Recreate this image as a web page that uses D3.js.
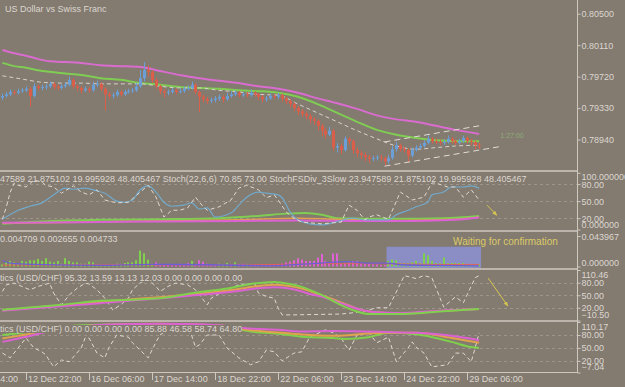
<!DOCTYPE html>
<html><head><meta charset="utf-8">
<script src="https://cdn.jsdelivr.net/npm/d3@7"></script>
<style>body{margin:0;background:#837a70;}svg{display:block;font-family:"Liberation Sans",Arial,sans-serif;}</style>
</head><body><svg id="c" width="625" height="387"></svg>
<script>
// ---------------- DATA ----------------
const title = "US Dollar vs Swiss Franc";
const opens = [.7946,.7948,.7950,.7953,.7952,.7954,.7955,.7957,.7948,.7960,
 .7958,.7959,.7960,.7963,.7959,.7958,.7960,.7962,.7968,.7960,
 .7958,.7955,.7957,.7955,.7962,.7963,.7957,.7950,.7948,.7949,
 .7953,.7950,.7953,.7954,.7955,.7960,.7970,.7980,.7978,.7968,
 .7960,.7954,.7952,.7953,.7955,.7953,.7954,.7957,.7958,.7962,
 .7953,.7947,.7944,.7942,.7943,.7945,.7947,.7944,.7948,.7950,
 .7952,.7949,.7950,.7949,.7952,.7950,.7947,.7944,.7945,.7948,
 .7947,.7949,.7945,.7942,.7938,.7933,.7929,.7926,.7923,.7919,
 .7917,.7911,.7905,.7900,.7905,.7884,.7886,.7881,.7895,.7892,
 .7881,.7877,.7875,.7872,.7870,.7871,.7872,.7871,.7867,.7871,
 .7882,.7887,.7882,.7881,.7874,.7881,.7884,.7886,.7890,.7895,
 .7892,.7891,.7890,.7891,.7895,.7892,.7890,.7892,.7896,.7892,
 .7891,.7887];
const closes = [.7948,.7950,.7953,.7952,.7954,.7955,.7957,.7948,.7960,.7958,
 .7959,.7960,.7963,.7959,.7958,.7960,.7962,.7968,.7960,.7958,
 .7955,.7957,.7955,.7962,.7963,.7957,.7950,.7948,.7949,.7953,
 .7950,.7953,.7954,.7955,.7960,.7970,.7980,.7978,.7968,.7960,
 .7954,.7952,.7953,.7955,.7953,.7954,.7957,.7958,.7962,.7953,
 .7947,.7944,.7942,.7943,.7945,.7947,.7944,.7948,.7950,.7952,
 .7949,.7950,.7949,.7952,.7950,.7947,.7944,.7945,.7948,.7947,
 .7949,.7945,.7942,.7938,.7933,.7929,.7926,.7923,.7919,.7917,
 .7911,.7905,.7900,.7905,.7884,.7886,.7881,.7895,.7892,.7881,
 .7877,.7875,.7872,.7870,.7871,.7872,.7871,.7867,.7871,.7882,
 .7887,.7882,.7881,.7874,.7881,.7884,.7886,.7890,.7895,.7892,
 .7891,.7890,.7891,.7895,.7892,.7890,.7892,.7896,.7892,.7891,
 .7887,.7886];
const highs = [.7951,.7953,.7956,.7955,.7957,.7958,.7960,.7959,.7964,.7962,
 .7962,.7963,.7966,.7965,.7962,.7963,.7965,.7972,.7970,.7962,
 .7960,.7960,.7959,.7966,.7967,.7965,.7959,.7953,.7952,.7956,
 .7955,.7956,.7957,.7958,.7964,.7980,.7990,.7986,.7980,.7970,
 .7962,.7957,.7956,.7958,.7957,.7957,.7960,.7961,.7966,.7964,
 .7955,.7950,.7947,.7946,.7948,.7950,.7949,.7952,.7954,.7955,
 .7954,.7953,.7953,.7956,.7954,.7952,.7949,.7948,.7951,.7950,
 .7952,.7951,.7947,.7944,.7940,.7936,.7932,.7929,.7926,.7922,
 .7919,.7914,.7908,.7910,.7907,.7890,.7889,.7898,.7897,.7894,
 .7884,.7880,.7878,.7875,.7874,.7875,.7875,.7873,.7875,.7886,
 .7891,.7889,.7885,.7883,.7884,.7887,.7889,.7893,.7899,.7897,
 .7895,.7894,.7894,.7899,.7897,.7894,.7895,.7899,.7898,.7895,
 .7893,.7890];
const lows = [.7943,.7946,.7948,.7949,.7950,.7952,.7953,.7935,.7946,.7955,
 .7955,.7956,.7958,.7956,.7955,.7956,.7958,.7960,.7957,.7954,
 .7951,.7953,.7952,.7953,.7959,.7954,.7930,.7944,.7945,.7947,
 .7947,.7948,.7951,.7952,.7953,.7958,.7966,.7972,.7964,.7957,
 .7950,.7946,.7949,.7951,.7950,.7951,.7952,.7955,.7956,.7950,
 .7928,.7940,.7938,.7939,.7940,.7942,.7940,.7942,.7946,.7948,
 .7946,.7947,.7946,.7947,.7947,.7943,.7940,.7941,.7943,.7944,
 .7944,.7941,.7938,.7934,.7929,.7924,.7922,.7919,.7914,.7912,
 .7905,.7898,.7895,.7898,.7880,.7878,.7876,.7879,.7888,.7876,
 .7872,.7870,.7867,.7865,.7867,.7868,.7867,.7862,.7864,.7869,
 .7879,.7879,.7878,.7866,.7872,.7879,.7882,.7884,.7888,.7889,
 .7888,.7887,.7887,.7889,.7889,.7887,.7888,.7890,.7889,.7887,
 .7882,.7882];
// moving averages sampled at bar indices
const maBars = [0,3,6,9,12,16,20,25,30,35,40,45,50,55,60,65,70,75,80,85,90,95,100,105,110,115,121];
const maMagenta = [.8005,.8001,.7998,.7994,.7991,.7990,.7989,.7986,.7985,.7984,.7979,.7974,.7970,.7967,.7964,.7960,.7957,.7952,.7945,.7939,.7932,.7924,.7919,.7916,.7911,.7906,.7901];
const maGreen = [.7989,.7985,.7983,.7980,.7978,.7976,.7974,.7970,.7968,.7964,.7962,.7959,.7958,.7957,.7955,.7954,.7952,.7947,.7938,.7927,.7916,.7906,.7900,.7896,.7893,.7892,.7892];
const maDashBars = [0,5,10,15,20,25,30,35,40,45,50,55,60,65,70,75,80,85,90,95,100,105,110,115,121];
const maDash = [.7973,.7969,.7965,.7964,.7964,.7963,.7963,.7963,.7960,.7958,.7958,.7955,.7953,.7950,.7949,.7938,.7927,.7916,.7905,.7895,.7886,.7882,.7884,.7886,.7887];
const channelUpper = [[97,.7891],[121,.7911]];
const channelLower = [[97,.7861],[126,.7885]];
const priceTicks = [0.80500,0.80110,0.79720,0.79330,0.78940];
const timerLabel = "1:27:00";

// StochFSDiv panel
const stochHeader = "StochFSDiv_3Slow 23.947589 21.875102 19.995928 48.405467 Stoch(22,6,6) 70.85 73.00 StochFSDiv_3Slow 23.947589 21.875102 19.995928 48.405467";
const stochHidden = "StochFSDiv_3Slow 23.9";
const stochBlue = [[0,18],[4,34],[7,41],[10,47],[13,61],[16,73],[18,71],[21,73],[24,68],[26,64],[29,50],[31,48],[33,52],[35,70],[37,77],[39,66],[41,48],[43,41],[46,43],[48,47],[50,36],[52,38],[54,22],[58,29],[60,43],[62,57],[65,66],[67,64],[70,61],[71,56],[73,31],[75,17],[78,10],[81,8],[84,12],[87,18],[89,20],[92,17],[98,17],[100,26],[103,34],[105,40],[108,48],[109,61],[112,66],[114,75],[117,75],[119,77],[121,73]];
const stochDash = [[0,18],[1,40],[2,66],[3,82],[4,78],[6,75],[8,87],[10,84],[11,78],[13,75],[15,64],[18,77],[20,66],[22,61],[24,70],[26,52],[29,47],[32,48],[35,66],[37,78],[39,57],[41,22],[43,34],[45,34],[47,38],[49,57],[51,40],[52,34],[55,40],[58,52],[60,73],[62,78],[65,70],[67,56],[69,61],[70,52],[72,31],[74,20],[76,13],[81,10],[86,13],[88,43],[90,34],[92,17],[93,22],[95,26],[98,18],[101,66],[103,57],[104,52],[107,57],[109,82],[110,82],[113,75],[115,75],[117,57],[119,70],[121,52]];
const stochGreen = [[0,10],[10,14],[25,17],[40,18],[55,20],[65,24],[72,28],[77,29],[81,26],[85,20],[100,19],[112,20],[121,24]];
const stochOrange = [[0,11],[20,13],[40,15],[60,17],[75,20],[85,18],[100,16],[115,18],[121,22]];
const stochMagenta = [[0,12],[20,13],[40,14],[60,15],[75,16],[90,15],[105,15],[115,17],[121,21]];
const stochTicks = [100,80,50,20,0];
const stochTickLabels = ["100.000000","80.00","50.00","20.00","0.000000"];
const stochArrow = [[123,43],[125.5,25]];

// histogram panel (positive = green, negative = magenta)
const histHeader = "0.004709 0.002655 0.004733";
const histValues = [.003,.006,.008,.006,.004,.008,.007,.009,.009,.011,
 .008,.012,.007,.006,.008,.004,.012,.008,.006,.006,
 .004,.004,.007,.006,.003,.002,.003,.002,.003,.004,
 .003,.005,.006,.006,.009,.023,.019,.010,.004,-.006,
 -.004,-.003,-.002,-.003,-.002,-.004,-.003,-.005,.008,-.003,
 -.009,-.007,-.004,-.003,-.002,.004,.003,.005,-.003,.006,
 -.003,-.004,.003,-.002,-.003,-.002,-.003,-.002,-.003,-.002,
 -.003,-.004,-.006,-.007,-.009,-.012,-.010,-.008,-.008,-.008,
 -.013,-.018,-.008,-.005,-.019,-.019,-.004,-.005,-.006,-.008,
 -.008,-.005,-.004,-.004,-.003,-.003,-.002,-.002,.008,.010,
 .009,.005,.005,.005,.006,.008,.005,.019,.016,.008,
 .005,.005,.013,.005,.005,.005,.005,.005,.003,.002,
 .002,.003];
const histBlue = [[0,.0083],[2,.005],[8,.003],[25,.0015],[38,.003],[52,.0025],[68,.001],[75,.003],[81,.005],[84,.0063],[88,.007],[92,.005],[98,.005],[101,.0025],[110,.0015],[121,.001]];
const histRed = [[0,.002],[30,.0025],[60,.002],[80,.004],[95,.004],[110,.003],[121,.003]];
const histTicks = [0.043967,0];
const histBox = [[97.5,0.0285],[121.5,-0.01]];
const histNote = "Waiting for confirmation";

// Stochastics panels
const p1Header = "Stochastics (USD/CHF) 95.32 13.59 13.13 12.03 0.00 0.00 0.00 0.00";
const p2Header = "Stochastics (USD/CHF) 0.00 0.00 0.00 0.00 85.88 46.58 58.74 64.80";
const hiddenPrefix = "Stochas";
const p1Green = [[0,15],[15,27],[25,37],[33,39],[42,45],[48,55],[57,66],[63,77],[69,82],[73,77],[76,70],[78,63],[81,51],[85,31],[90,11],[93,5],[101,5],[111,11],[121,17]];
const p1Orange = [[0,14],[25,34],[57,61],[69,75],[76,66],[81,50],[86,33],[91,15],[95,9],[101,6],[111,12],[121,17]];
const p1Magenta = [[0,13],[25,31],[57,57],[69,69],[76,59],[78,53],[81,47],[86,31],[91,15],[95,9],[101,7],[111,13],[121,17]];
const p1Dash = [[0,59],[1,75],[3,79],[5,71],[7,63],[9,71],[12,79],[13,55],[15,27],[17,51],[19,67],[21,79],[22,77],[24,63],[26,43],[28,15],[30,27],[32,43],[33,63],[35,80],[37,88],[39,71],[40,59],[42,71],[44,79],[47,75],[49,63],[52,27],[53,43],[56,59],[58,67],[60,75],[64,79],[65,55],[67,47],[69,43],[70,19],[71,3],[74,3],[86,5],[91,10],[95,20],[98,20],[100,58],[102,97],[105,90],[107,97],[109,92],[112,22],[115,46],[117,32],[120,92],[121,97]];
const p1Ticks = [110.46,80,50,20,-10.50];
const p1Arrow = [[123.3,91],[128.3,24]];
const p2Green = [[0,80],[4,84],[8,90],[14,98],[25,104],[40,105],[55,100],[63,88],[70,83],[76,76],[84,73],[87,71],[93,75],[98,85],[105,82],[114,64],[119,52],[121,50]];
const p2Orange = [[0,72],[4,78],[8,85],[13,94],[25,103],[40,106],[55,102],[63,91],[70,86],[76,81],[84,78],[97,85],[105,85],[114,73],[121,62]];
const p2Magenta = [[0,64],[4,72],[8,80],[12,90],[20,100],[30,105],[40,106],[50,105],[58,100],[63,95],[70,92],[76,88],[84,89],[97,87],[105,85],[114,78],[121,68]];
const p2Dash = [[0,38],[2,27],[4,50],[6,73],[8,50],[10,41],[11,34],[13,6],[15,22],[17,18],[20,50],[21,73],[22,73],[24,38],[26,27],[27,50],[29,80],[32,75],[33,62],[37,27],[39,64],[40,80],[42,92],[45,95],[47,88],[48,80],[49,52],[50,57],[52,80],[55,80],[57,50],[60,27],[63,11],[65,18],[67,45],[69,41],[71,20],[74,38],[76,41],[78,75],[82,92],[84,85],[86,73],[87,57],[88,45],[90,80],[93,85],[95,62],[98,75],[100,18],[103,50],[104,64],[105,52],[107,38],[109,6],[113,11],[115,38],[117,38],[119,18],[120,50],[121,85]];
const p2Ticks = [110.17,80,50,20,-7.04];
const levelLines = [80,50,20];

// time axis
const timeTickBars = [-10,6,22,38,54,70,86,102,118];
const timeTickLabels = ["11 Dec 14:00","12 Dec 22:00","16 Dec 06:00","17 Dec 14:00","18 Dec 22:00","22 Dec 06:00","23 Dec 14:00","24 Dec 22:00","29 Dec 06:00"];

// ---------------- DRAW ----------------
const W=625,H=387,axisX=577;
const BG="#837a70", TXT="#dcd7cf", AX="#cfc8bf", SEP="#bdb5ab";
const FONT='"Liberation Sans",Arial,sans-serif';
const svg=d3.select("#c");
svg.append("rect").attr("width",W).attr("height",H).attr("fill",BG);
const defs=svg.append("defs");
defs.append("marker").attr("id","arr").attr("viewBox","0 0 10 10").attr("refX",9).attr("refY",5)
  .attr("markerWidth",5).attr("markerHeight",5).attr("orient","auto")
  .append("path").attr("d","M0,1L10,5L0,9z").attr("fill","#d6c651");

const x=d3.scaleLinear().domain([0,121]).range([2.4,479.1]);
const P={main:{n:"main",top:0,bottom:170},stoch:{n:"stoch",top:172,bottom:230},hist:{n:"hist",top:232,bottom:268},
  p1:{n:"p1",top:270,bottom:320},p2:{n:"p2",top:322,bottom:372}};
const yMain=d3.scaleLinear().domain([0.8067,0.7855]).range([0,171]);
const yStoch=d3.scaleLinear().domain([0,100]).range([229.5,172.8]);
const yHist=d3.scaleLinear().domain([0,0.043967]).range([266.5,236]);
const yP1=d3.scaleLinear().domain([-10.5,110.46]).range([320.5,270]);
const yP2=d3.scaleLinear().domain([-7.04,110.17]).range([372.5,322]);

function pg(p){
  defs.append("clipPath").attr("id","cl"+p.n).append("rect").attr("x",0).attr("y",p.top).attr("width",axisX).attr("height",p.bottom-p.top);
  return svg.append("g").attr("clip-path",`url(#cl${p.n})`);
}
function line(g,data,y,color,w,dash,curve){
  g.append("path").datum(data).attr("fill","none").attr("stroke",color).attr("stroke-width",w)
   .attr("stroke-dasharray",dash||null).attr("stroke-linejoin","round")
   .attr("d",d3.line().x(d=>x(d[0])).y(d=>y(d[1])).curve(curve||d3.curveLinear));
}
function levels(g,y){
  g.selectAll(null).data(levelLines).join("line").attr("x1",0).attr("x2",axisX)
   .attr("y1",d=>Math.round(y(d))+0.5).attr("y2",d=>Math.round(y(d))+0.5)
   .attr("stroke","#9d958b").attr("stroke-dasharray","3,3");
}
function rightAxis(scale,vals,fmt,p){
  const g=svg.append("g").attr("transform",`translate(${axisX+0.5},0)`)
    .call(d3.axisRight(scale).tickValues(vals).tickSize(3).tickPadding(1).tickFormat(fmt));
  g.select(".domain").remove();
  g.selectAll(".tick line").attr("stroke",AX);
  g.selectAll(".tick text").attr("fill",TXT).attr("font-size",9).attr("font-family",FONT);
  g.selectAll(".tick").each(function(d){
    const yy=scale(d), ty=Math.max(p.top+5,Math.min(p.bottom-5,yy));
    d3.select(this).select("text").attr("y",ty-yy);
  });
}
function header(txt,hidden,y,bg){
  const t=svg.append("text").attr("font-size",9).attr("font-family",FONT).attr("fill",TXT).attr("y",y).text(hidden);
  const off=hidden?t.node().getComputedTextLength():0;
  t.text(txt).attr("x",-off);
  if(bg){
    const b=t.node().getBBox();
    svg.insert("rect",()=>t.node()).attr("x",0).attr("y",b.y+1).attr("width",b.x+b.width).attr("height",b.height-2).attr("fill",BG);
  }
  return t;
}

// ---- main panel
const gm=pg(P.main);
line(gm,maBars.map((b,i)=>[b,maMagenta[i]]),yMain,"#da6cd0",2,null,d3.curveMonotoneX);
line(gm,maBars.map((b,i)=>[b,maGreen[i]]),yMain,"#7fcd52",2,null,d3.curveMonotoneX);
line(gm,maDashBars.map((b,i)=>[b,maDash[i]]),yMain,"#d8d2ca",1,"4,3",d3.curveMonotoneX);
const cg=gm.append("g");
const idx=d3.range(closes.length);
const col=i=>closes[i]>=opens[i]?"#6b9fd6":"#d95f4b";
cg.selectAll("line").data(idx).join("line")
  .attr("x1",i=>Math.round(x(i))+0.5).attr("x2",i=>Math.round(x(i))+0.5)
  .attr("y1",i=>yMain(highs[i])).attr("y2",i=>yMain(lows[i])).attr("stroke",col).attr("stroke-width",1);
cg.selectAll("rect").data(idx).join("rect")
  .attr("x",i=>Math.round(x(i))-1).attr("width",3)
  .attr("y",i=>yMain(Math.max(opens[i],closes[i])))
  .attr("height",i=>Math.max(1,Math.abs(yMain(opens[i])-yMain(closes[i]))))
  .attr("fill",col);
line(gm,channelUpper,yMain,"#e2ddd6",1,"6,4");
line(gm,channelLower,yMain,"#e2ddd6",1,"6,4");
gm.append("text").attr("x",x(126.4)).attr("y",yMain(0.7896)).attr("font-size",7).attr("font-family",FONT)
  .attr("fill","#8eae78").text(timerLabel);
svg.append("text").attr("x",5).attr("y",12).attr("font-size",9).attr("font-family",FONT).attr("fill",TXT).text(title);
rightAxis(yMain,priceTicks,d3.format(".5f"),P.main);

// ---- stoch panel
const gs=pg(P.stoch);
levels(gs,yStoch);
line(gs,stochGreen,yStoch,"#7fcd52",2,null,d3.curveMonotoneX);
line(gs,stochOrange,yStoch,"#e0a24e",1.5,null,d3.curveMonotoneX);
line(gs,stochMagenta,yStoch,"#da62d2",2,null,d3.curveMonotoneX);
line(gs,stochBlue,yStoch,"#72aacb",1.2,null,d3.curveMonotoneX);
line(gs,stochDash,yStoch,"#e0dad2",1,"4,3");
header(stochHeader,stochHidden,182,false);
rightAxis(yStoch,stochTicks,(d,i)=>stochTickLabels[i],P.stoch);
svg.append("path").datum(stochArrow).attr("stroke","#d6c651").attr("stroke-width",1).attr("fill","none")
  .attr("marker-end","url(#arr)").attr("d",d3.line().x(d=>x(d[0])).y(d=>yStoch(d[1])));

// ---- histogram panel
const gh=pg(P.hist);
gh.append("rect").attr("x",x(histBox[0][0])).attr("width",x(histBox[1][0])-x(histBox[0][0]))
  .attr("y",yHist(histBox[0][1])).attr("height",yHist(histBox[1][1])-yHist(histBox[0][1])).attr("fill","#8a8ec4");
gh.selectAll("rect.b").data(idx).join("rect").attr("class","b")
  .attr("x",i=>Math.round(x(i))-1).attr("width",2)
  .attr("y",i=>yHist(Math.abs(histValues[i]))).attr("height",i=>yHist(0)-yHist(Math.abs(histValues[i])))
  .attr("fill",i=>histValues[i]>=0?"#7fd04c":"#de62d4");
line(gh,histRed,yHist,"#e0605a",1,null,d3.curveMonotoneX);
line(gh,histBlue,yHist,"#6a5fd6",1.3,null,d3.curveMonotoneX);
header(histHeader,"",242,false);
svg.append("text").attr("x",x(114.4)).attr("y",yHist(0.0305)).attr("font-size",10).attr("font-family",FONT)
  .attr("fill","#dccb68").text(histNote);
rightAxis(yHist,histTicks,d3.format(".6f"),P.hist);

// ---- p1
const g1=pg(P.p1);
levels(g1,yP1);
line(g1,p1Dash,yP1,"#e0dad2",1,"4,3");
line(g1,p1Orange,yP1,"#e0a24e",2,null,d3.curveMonotoneX);
line(g1,p1Magenta,yP1,"#da62d2",2,null,d3.curveMonotoneX);
line(g1,p1Green,yP1,"#7fd04c",2,null,d3.curveMonotoneX);
header(p1Header,hiddenPrefix,281,true);
rightAxis(yP1,p1Ticks,d3.format(".2f"),P.p1);
svg.append("path").datum(p1Arrow).attr("stroke","#d6c651").attr("stroke-width",1).attr("fill","none")
  .attr("marker-end","url(#arr)").attr("d",d3.line().x(d=>x(d[0])).y(d=>yP1(d[1])));

// ---- p2
const g2=pg(P.p2);
levels(g2,yP2);
line(g2,p2Dash,yP2,"#e0dad2",1,"4,3");
line(g2,p2Green,yP2,"#7fd04c",2,null,d3.curveMonotoneX);
line(g2,p2Orange,yP2,"#e0a24e",2,null,d3.curveMonotoneX);
line(g2,p2Magenta,yP2,"#da62d2",2,null,d3.curveMonotoneX);
header(p2Header,hiddenPrefix,332,true);
rightAxis(yP2,p2Ticks,d3.format(".2f"),P.p2);

// ---- separators & axes
svg.selectAll("line.sep").data([P.main.bottom,P.stoch.bottom,P.hist.bottom,P.p1.bottom]).join("line").attr("class","sep")
  .attr("x1",0).attr("x2",axisX).attr("y1",d=>d+1).attr("y2",d=>d+1).attr("stroke",SEP).attr("stroke-width",2);
svg.append("line").attr("x1",axisX+0.5).attr("x2",axisX+0.5).attr("y1",0).attr("y2",P.p2.bottom+1).attr("stroke",AX);
svg.append("line").attr("x1",0).attr("x2",axisX).attr("y1",P.p2.bottom+0.5).attr("y2",P.p2.bottom+0.5).attr("stroke",AX);
const tg=svg.append("g");
tg.selectAll("line").data(timeTickBars).join("line").attr("x1",d=>Math.round(x(d))+0.5).attr("x2",d=>Math.round(x(d))+0.5)
  .attr("y1",P.p2.bottom).attr("y2",P.p2.bottom+8).attr("stroke",AX);
tg.selectAll("text").data(timeTickBars).join("text").attr("x",d=>x(d)+2).attr("y",382)
  .attr("font-size",9).attr("font-family",FONT).attr("fill",TXT).text((d,i)=>timeTickLabels[i]);
</script></body></html>
